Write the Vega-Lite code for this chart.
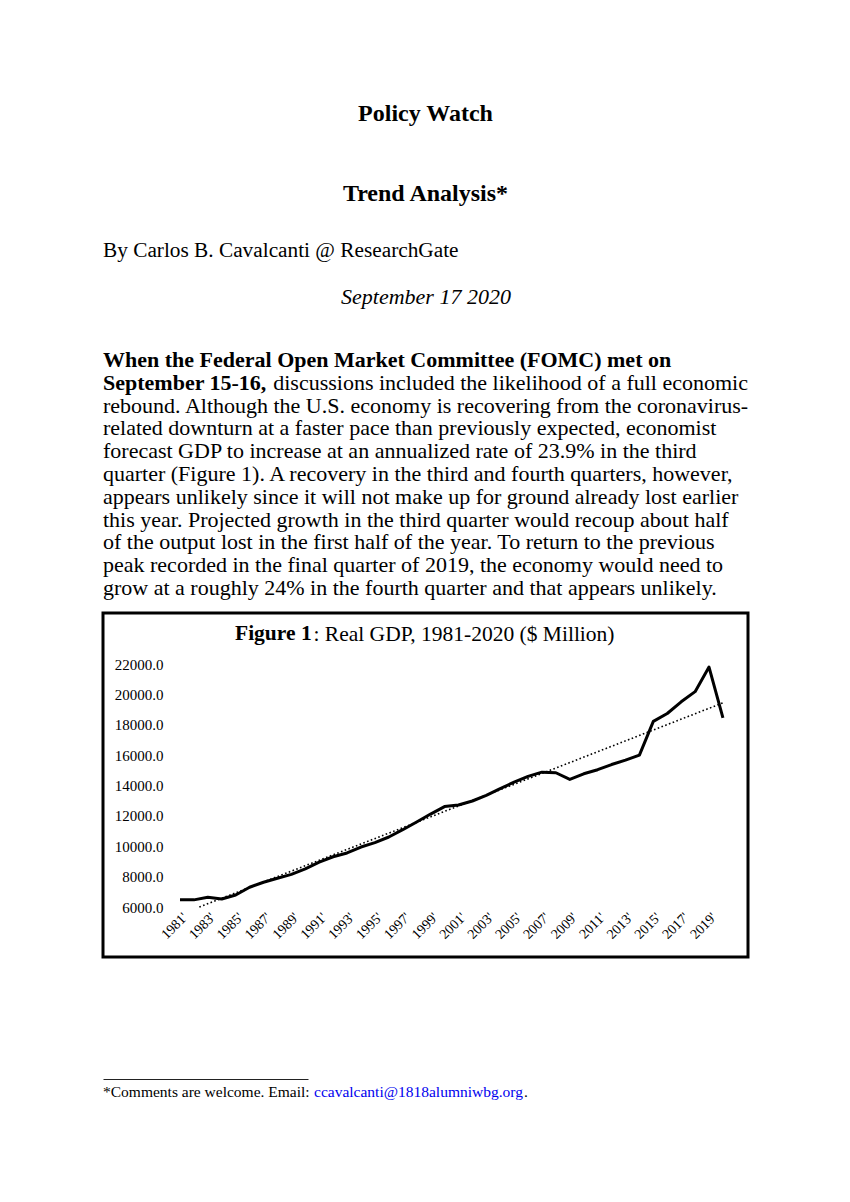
{
  "$schema": "https://vega.github.io/schema/vega-lite/v6.json",
  "background": "white",
  "padding": {"left": 101, "top": 101, "right": 0, "bottom": 0},
  "config": {
    "view": {"stroke": null},
    "font": "Liberation Serif"
  },
  "title": {
    "text": "Policy Watch",
    "subtitle": "Trend Analysis*",
    "anchor": "middle",
    "font": "Liberation Serif",
    "fontSize": 24,
    "fontWeight": "bold",
    "color": "black",
    "subtitleFont": "Liberation Serif",
    "subtitleFontSize": 24,
    "subtitleFontWeight": "bold",
    "subtitleColor": "black",
    "subtitlePadding": 56,
    "offset": 34
  },
  "spacing": 12,
  "vconcat": [
    {
      "width": 645,
      "height": 228,
      "title": {
        "text": "By Carlos B. Cavalcanti @ ResearchGate",
        "anchor": "start",
        "frame": "group",
        "font": "Liberation Serif",
        "fontSize": 21.3,
        "fontWeight": "normal",
        "color": "black",
        "offset": 24
      },
      "data": {
        "values": [
          {"line": 1, "part": "lead", "text": "When the Federal Open Market Committee (FOMC) met on"},
          {"line": 2, "part": "lead", "text": "September 15-16,"},
          {"line": 2, "part": "leadrest", "text": "discussions included the likelihood of a full economic"},
          {"line": 3, "part": "body", "text": "rebound. Although the U.S. economy is recovering from the coronavirus-"},
          {"line": 4, "part": "body", "text": "related downturn at a faster pace than previously expected, economist"},
          {"line": 5, "part": "body", "text": "forecast GDP to increase at an annualized rate of 23.9% in the third"},
          {"line": 6, "part": "body", "text": "quarter (Figure 1). A recovery in the third and fourth quarters, however,"},
          {"line": 7, "part": "body", "text": "appears unlikely since it will not make up for ground already lost earlier"},
          {"line": 8, "part": "body", "text": "this year. Projected growth in the third quarter would recoup about half"},
          {"line": 9, "part": "body", "text": "of the output lost in the first half of the year. To return to the previous"},
          {"line": 10, "part": "body", "text": "peak recorded in the final quarter of 2019, the economy would need to"},
          {"line": 11, "part": "body", "text": "grow at a roughly 24% in the fourth quarter and that appears unlikely."}
        ]
      },
      "encoding": {
        "y": {"field": "line", "type": "ordinal", "axis": null, "scale": {"type": "point", "padding": 0}},
        "text": {"field": "text", "type": "nominal"}
      },
      "layer": [
        {
          "transform": [{"filter": "datum.part == 'lead'"}],
          "mark": {"type": "text", "align": "left", "baseline": "alphabetic", "font": "Liberation Serif", "fontSize": 22, "fontWeight": "bold", "color": "black"},
          "encoding": {
            "x": {
              "datum": 0, "type": "quantitative",
              "scale": {"domain": [0, 1], "nice": false},
              "axis": {"orient": "top", "labels": false, "ticks": false, "domain": false, "grid": false,
                "title": "September 17 2020", "titleFont": "Liberation Serif", "titleFontSize": 22,
                "titleFontStyle": "italic", "titleFontWeight": "normal", "titleColor": "black",
                "titlePadding": 59}
            }
          }
        },
        {
          "transform": [{"filter": "datum.part == 'body'"}],
          "mark": {"type": "text", "align": "left", "baseline": "alphabetic", "font": "Liberation Serif", "fontSize": 22, "color": "black"},
          "encoding": {
            "x": {
              "datum": 0, "type": "quantitative",
              "axis": {"orient": "top", "labels": false, "ticks": false, "domain": false, "grid": false,
                "title": "September 17 2020", "titleFont": "Liberation Serif", "titleFontSize": 22,
                "titleFontStyle": "italic", "titleFontWeight": "normal", "titleColor": "black",
                "titlePadding": 59}
            }
          }
        },
        {
          "transform": [{"filter": "datum.part == 'leadrest'"}],
          "mark": {"type": "text", "align": "right", "baseline": "alphabetic", "font": "Liberation Serif", "fontSize": 22, "color": "black"},
          "encoding": {
            "x": {
              "datum": 1, "type": "quantitative",
              "axis": {"orient": "top", "labels": false, "ticks": false, "domain": false, "grid": false,
                "title": "September 17 2020", "titleFont": "Liberation Serif", "titleFontSize": 22,
                "titleFontStyle": "italic", "titleFontWeight": "normal", "titleColor": "black",
                "titlePadding": 59}
            }
          }
        }
      ]
    },
    {
      "spacing": 120,
      "vconcat": [
        {
          "width": 645,
          "height": 344,
          "view": {"stroke": "black", "strokeWidth": 3},
          "title": {
            "text": "Figure 1",
            "anchor": "start",
            "frame": "group",
            "dx": 132,
            "offset": -31,
            "font": "Liberation Serif",
            "fontSize": 21.5,
            "fontWeight": "bold",
            "color": "black"
          },
          "encoding": {
            "x": {
              "field": "year", "type": "quantitative",
              "scale": {"domain": [1975.47, 2021.8], "nice": false, "zero": false},
              "axis": {
                "orient": "bottom", "offset": -50,
                "values": [1981, 1983, 1985, 1987, 1989, 1991, 1993, 1995, 1997, 1999, 2001, 2003, 2005, 2007, 2009, 2011, 2013, 2015, 2017, 2019],
                "labelExpr": "datum.value + \"'\"",
                "labelAngle": -45, "labelAlign": "right", "labelBaseline": "top",
                "labelFont": "Liberation Serif", "labelFontSize": 14, "labelColor": "black",
                "labelPadding": 3, "labelOverlap": false, "labelFlush": false,
                "ticks": false, "tickSize": 0, "domain": false, "grid": false, "title": null
              }
            },
            "y": {
              "field": "gdp", "type": "quantitative",
              "scale": {"domain": [2708, 25358], "nice": false, "zero": false},
              "axis": {
                "orient": "left", "offset": -60,
                "values": [6000, 8000, 10000, 12000, 14000, 16000, 18000, 20000, 22000],
                "format": ".1f",
                "labelFont": "Liberation Serif", "labelFontSize": 15, "labelColor": "black",
                "labelPadding": 0, "labelOverlap": false, "labelFlush": false,
                "ticks": false, "tickSize": 0, "domain": false, "grid": false,
                "title": ": Real GDP, 1981-2020 ($ Million)",
                "titleAngle": 0, "titleAlign": "left", "titleBaseline": "alphabetic",
                "titleX": 150, "titleY": 27,
                "titleFont": "Liberation Serif", "titleFontSize": 21.5, "titleFontWeight": "normal", "titleColor": "black"
              }
            }
          },
          "layer": [
            {
              "data": {"values": [
                {"gdp": 6000}, {"gdp": 8000}, {"gdp": 10000}, {"gdp": 12000}, {"gdp": 14000},
                {"gdp": 16000}, {"gdp": 18000}, {"gdp": 20000}, {"gdp": 22000}
              ]},
              "mark": {"type": "rule", "color": "#d9d9d9", "strokeWidth": 1},
              "encoding": {
                "x": {"datum": 1980.5, "type": "quantitative"},
                "x2": {"datum": 2020.5}
              }
            },
            {
              "data": {"values": [
                {"year": 1982.39, "gdp": 6000},
                {"year": 2020, "gdp": 19440}
              ]},
              "mark": {"type": "line", "color": "black", "strokeWidth": 1.6, "strokeDash": [1.6, 2.4]}
            },
            {
              "data": {"values": [
                {"year": 1981, "gdp": 6480}, {"year": 1982, "gdp": 6470}, {"year": 1983, "gdp": 6640},
                {"year": 1984, "gdp": 6530}, {"year": 1985, "gdp": 6790}, {"year": 1986, "gdp": 7300},
                {"year": 1987, "gdp": 7630}, {"year": 1988, "gdp": 7890}, {"year": 1989, "gdp": 8150},
                {"year": 1990, "gdp": 8510}, {"year": 1991, "gdp": 8950}, {"year": 1992, "gdp": 9310},
                {"year": 1993, "gdp": 9560}, {"year": 1994, "gdp": 9950}, {"year": 1995, "gdp": 10240},
                {"year": 1996, "gdp": 10610}, {"year": 1997, "gdp": 11090}, {"year": 1998, "gdp": 11600},
                {"year": 1999, "gdp": 12120}, {"year": 2000, "gdp": 12610}, {"year": 2001, "gdp": 12720},
                {"year": 2002, "gdp": 12980}, {"year": 2003, "gdp": 13350}, {"year": 2004, "gdp": 13800},
                {"year": 2005, "gdp": 14220}, {"year": 2006, "gdp": 14600}, {"year": 2007, "gdp": 14880},
                {"year": 2008, "gdp": 14840}, {"year": 2009, "gdp": 14400}, {"year": 2010, "gdp": 14770},
                {"year": 2011, "gdp": 15040}, {"year": 2012, "gdp": 15380}, {"year": 2013, "gdp": 15670},
                {"year": 2014, "gdp": 16000}, {"year": 2015, "gdp": 18220}, {"year": 2016, "gdp": 18740},
                {"year": 2017, "gdp": 19510}, {"year": 2018, "gdp": 20180}, {"year": 2019, "gdp": 21800},
                {"year": 2020, "gdp": 18450}
              ]},
              "mark": {"type": "line", "color": "black", "strokeWidth": 3, "strokeJoin": "round"}
            }
          ]
        },
        {
          "width": 205,
          "height": 36,
          "data": {"values": [
            {"part": "note", "text": "*Comments are welcome. Email:"},
            {"part": "email", "text": "ccavalcanti@1818alumniwbg.org"},
            {"part": "end", "text": "."}
          ]},
          "encoding": {
            "x": {
              "datum": 0, "type": "quantitative",
              "scale": {"domain": [0, 1], "nice": false},
              "axis": {"orient": "top", "labels": false, "ticks": false, "grid": false, "title": null,
                "domain": true, "domainColor": "#222222", "domainWidth": 1}
            },
            "text": {"field": "text", "type": "nominal"}
          },
          "layer": [
            {
              "transform": [{"filter": "datum.part == 'note'"}],
              "mark": {"type": "text", "align": "left", "baseline": "alphabetic", "font": "Liberation Serif", "fontSize": 15.5, "color": "black"}
            },
            {
              "transform": [{"filter": "datum.part == 'email'"}],
              "mark": {"type": "text", "align": "left", "baseline": "alphabetic", "font": "Liberation Serif", "fontSize": 15.5, "color": "#0000ee", "dx": 211}
            },
            {
              "transform": [{"filter": "datum.part == 'end'"}],
              "mark": {"type": "text", "align": "left", "baseline": "alphabetic", "font": "Liberation Serif", "fontSize": 15.5, "color": "black", "dx": 421}
            }
          ]
        }
      ]
    }
  ]
}
